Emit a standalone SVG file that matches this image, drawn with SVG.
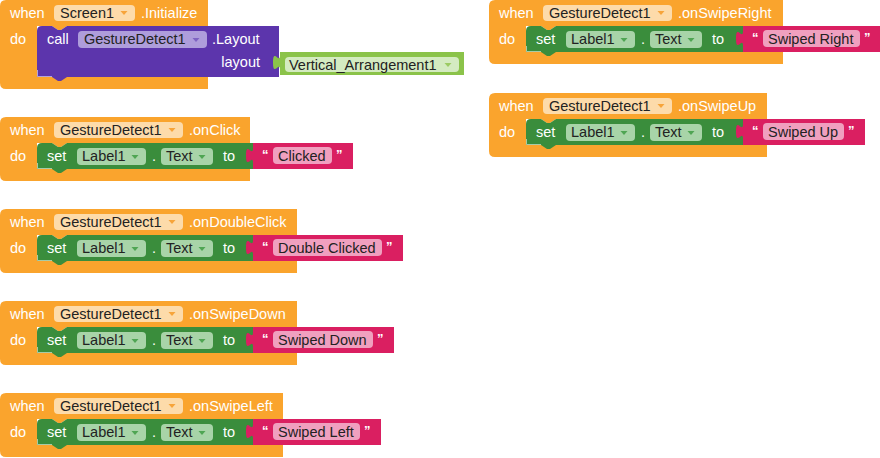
<svg xmlns="http://www.w3.org/2000/svg" width="880" height="458" viewBox="0 0 880 458">
<style>
text{font-family:"Liberation Sans",Arial,sans-serif;font-size:14.5px;fill:#fff}
.dt{fill:#222}
.q{font-size:13px;font-weight:bold}
.ev{fill:#FAA42D}
.evd{fill:#FDDBAA}
.eva{fill:#F7A43A}
.mt{fill:#5C35AC}
.mtd{fill:#AE9DDB}
.mta{fill:#7E63C2}
.st{fill:#3A8D3C}
.std{fill:#A8D4A8}
.sta{fill:#4FA553}
.tx{fill:#DA1F61}
.txd{fill:#F0A0BF}
.cp{fill:#8BC34A}
.cpd{fill:#D4EBC1}
.hl{fill:none;stroke:#fff;stroke-opacity:0.55;stroke-width:1}
</style>
<defs>
<path id="arr" d="M-3.5,-2 H3.5 L0,2 Z"/>
</defs>

<g id="initialize">
<path class="ev" d="M0,6 Q0,0 6,0 H208 V26 H67 l-6,4 h-3 l-6,-4 H37 V77 H208 V89 H6 Q0,89 0,83 Z"/>
<path class="mt" d="M37,31 Q37,26 42,26 H52 l6,4 h3 l6,-4 H279 V77 H67 l-6,4 h-3 l-6,-4 H37 Z"/>
<path class="hl" d="M37.5,70 V76.5 H52"/>
<text x="10" y="18">when</text>
<rect class="evd" x="54" y="5" width="81" height="16" rx="4"/>
<text class="dt" x="60" y="18">Screen1</text>
<use href="#arr" class="eva" x="124" y="13"/>
<text x="141" y="18">.Initialize</text>
<text x="10" y="43.5">do</text>
<text x="47" y="44">call</text>
<rect class="mtd" x="78" y="31" width="129" height="17" rx="4"/>
<text class="dt" x="84" y="44">GestureDetect1</text>
<use href="#arr" class="mta" x="196" y="40"/>
<text x="212" y="44">.Layout</text>
<text x="260" y="67" text-anchor="end">layout</text>
<path class="cp" d="M280,52 H464 V75 H280 V70 C280,60 273,78 273,62.5 S280,65 280,55 Z"/>
<rect class="cpd" x="285" y="57" width="174" height="15" rx="4"/>
<text class="dt" x="289" y="69.5">Vertical_Arrangement1</text>
<use href="#arr" x="448" y="65" style="fill:#9CCB63"/>
</g>

<g id="onClick" transform="translate(0,117)">
<path class="ev" d="M0,6 Q0,0 6,0 H250 V26 H67 l-6,4 h-3 l-6,-4 H37 V52 H250 V64 H6 Q0,64 0,58 Z"/>
<path class="st" d="M37,31 Q37,26 42,26 H52 l6,4 h3 l6,-4 H253 V52 H67 l-6,4 h-3 l-6,-4 H37 Z"/>
<path class="hl" d="M37.5,46 V51.5 H52"/>
<path class="tx" d="M253,26 H353 V52 H253 V46 C253,36 246,54 246,38.5 S253,41 253,31 Z"/>
<text x="10" y="18">when</text>
<rect class="evd" x="54" y="5" width="129" height="16" rx="4"/>
<text class="dt" x="60" y="18">GestureDetect1</text>
<use href="#arr" class="eva" x="172" y="13"/>
<text x="189" y="18">.onClick</text>
<text x="10" y="43.5">do</text>
<text x="47" y="43.5">set</text>
<rect class="std" x="77" y="31" width="69" height="17" rx="4"/>
<text class="dt" x="82" y="43.5">Label1</text>
<use href="#arr" class="sta" x="135" y="40"/>
<text x="152" y="43.5">.</text>
<rect class="std" x="161" y="31" width="52" height="17" rx="4"/>
<text class="dt" x="166" y="43.5">Text</text>
<use href="#arr" class="sta" x="202" y="40"/>
<text x="223" y="43.5">to</text>
<text class="q" x="262" y="42">“</text>
<rect class="txd" x="273" y="30" width="59" height="17" rx="4"/>
<text class="dt" x="278" y="43.5">Clicked</text>
<text class="q" x="336" y="42">”</text>
</g>

<g id="onDoubleClick" transform="translate(0,209)">
<path class="ev" d="M0,6 Q0,0 6,0 H297 V26 H67 l-6,4 h-3 l-6,-4 H37 V52 H297 V64 H6 Q0,64 0,58 Z"/>
<path class="st" d="M37,31 Q37,26 42,26 H52 l6,4 h3 l6,-4 H253 V52 H67 l-6,4 h-3 l-6,-4 H37 Z"/>
<path class="hl" d="M37.5,46 V51.5 H52"/>
<path class="tx" d="M253,26 H403 V52 H253 V46 C253,36 246,54 246,38.5 S253,41 253,31 Z"/>
<text x="10" y="18">when</text>
<rect class="evd" x="54" y="5" width="129" height="16" rx="4"/>
<text class="dt" x="60" y="18">GestureDetect1</text>
<use href="#arr" class="eva" x="172" y="13"/>
<text x="189" y="18">.onDoubleClick</text>
<text x="10" y="43.5">do</text>
<text x="47" y="43.5">set</text>
<rect class="std" x="77" y="31" width="69" height="17" rx="4"/>
<text class="dt" x="82" y="43.5">Label1</text>
<use href="#arr" class="sta" x="135" y="40"/>
<text x="152" y="43.5">.</text>
<rect class="std" x="161" y="31" width="52" height="17" rx="4"/>
<text class="dt" x="166" y="43.5">Text</text>
<use href="#arr" class="sta" x="202" y="40"/>
<text x="223" y="43.5">to</text>
<text class="q" x="262" y="42">“</text>
<rect class="txd" x="273" y="30" width="109" height="17" rx="4"/>
<text class="dt" x="278" y="43.5">Double Clicked</text>
<text class="q" x="386" y="42">”</text>
</g>

<g id="onSwipeDown" transform="translate(0,301)">
<path class="ev" d="M0,6 Q0,0 6,0 H297 V26 H67 l-6,4 h-3 l-6,-4 H37 V52 H297 V64 H6 Q0,64 0,58 Z"/>
<path class="st" d="M37,31 Q37,26 42,26 H52 l6,4 h3 l6,-4 H253 V52 H67 l-6,4 h-3 l-6,-4 H37 Z"/>
<path class="hl" d="M37.5,46 V51.5 H52"/>
<path class="tx" d="M253,26 H394 V52 H253 V46 C253,36 246,54 246,38.5 S253,41 253,31 Z"/>
<text x="10" y="18">when</text>
<rect class="evd" x="54" y="5" width="129" height="16" rx="4"/>
<text class="dt" x="60" y="18">GestureDetect1</text>
<use href="#arr" class="eva" x="172" y="13"/>
<text x="189" y="18">.onSwipeDown</text>
<text x="10" y="43.5">do</text>
<text x="47" y="43.5">set</text>
<rect class="std" x="77" y="31" width="69" height="17" rx="4"/>
<text class="dt" x="82" y="43.5">Label1</text>
<use href="#arr" class="sta" x="135" y="40"/>
<text x="152" y="43.5">.</text>
<rect class="std" x="161" y="31" width="52" height="17" rx="4"/>
<text class="dt" x="166" y="43.5">Text</text>
<use href="#arr" class="sta" x="202" y="40"/>
<text x="223" y="43.5">to</text>
<text class="q" x="262" y="42">“</text>
<rect class="txd" x="273" y="30" width="100" height="17" rx="4"/>
<text class="dt" x="278" y="43.5">Swiped Down</text>
<text class="q" x="377" y="42">”</text>
</g>

<g id="onSwipeLeft" transform="translate(0,393)">
<path class="ev" d="M0,6 Q0,0 6,0 H283 V26 H67 l-6,4 h-3 l-6,-4 H37 V52 H283 V64 H6 Q0,64 0,58 Z"/>
<path class="st" d="M37,31 Q37,26 42,26 H52 l6,4 h3 l6,-4 H253 V52 H67 l-6,4 h-3 l-6,-4 H37 Z"/>
<path class="hl" d="M37.5,46 V51.5 H52"/>
<path class="tx" d="M253,26 H381 V52 H253 V46 C253,36 246,54 246,38.5 S253,41 253,31 Z"/>
<text x="10" y="18">when</text>
<rect class="evd" x="54" y="5" width="129" height="16" rx="4"/>
<text class="dt" x="60" y="18">GestureDetect1</text>
<use href="#arr" class="eva" x="172" y="13"/>
<text x="189" y="18">.onSwipeLeft</text>
<text x="10" y="43.5">do</text>
<text x="47" y="43.5">set</text>
<rect class="std" x="77" y="31" width="69" height="17" rx="4"/>
<text class="dt" x="82" y="43.5">Label1</text>
<use href="#arr" class="sta" x="135" y="40"/>
<text x="152" y="43.5">.</text>
<rect class="std" x="161" y="31" width="52" height="17" rx="4"/>
<text class="dt" x="166" y="43.5">Text</text>
<use href="#arr" class="sta" x="202" y="40"/>
<text x="223" y="43.5">to</text>
<text class="q" x="262" y="42">“</text>
<rect class="txd" x="273" y="30" width="87" height="17" rx="4"/>
<text class="dt" x="278" y="43.5">Swiped Left</text>
<text class="q" x="364" y="42">”</text>
</g>

<g id="onSwipeRight" transform="translate(489,0)">
<path class="ev" d="M0,6 Q0,0 6,0 H294 V26 H67 l-6,4 h-3 l-6,-4 H37 V52 H294 V64 H6 Q0,64 0,58 Z"/>
<path class="st" d="M37,31 Q37,26 42,26 H52 l6,4 h3 l6,-4 H254 V52 H67 l-6,4 h-3 l-6,-4 H37 Z"/>
<path class="hl" d="M37.5,46 V51.5 H52"/>
<path class="tx" d="M254,26 H391 V52 H254 V46 C254,36 247,54 247,38.5 S254,41 254,31 Z"/>
<text x="10" y="18">when</text>
<rect class="evd" x="54" y="5" width="129" height="16" rx="4"/>
<text class="dt" x="60" y="18">GestureDetect1</text>
<use href="#arr" class="eva" x="172" y="13"/>
<text x="189" y="18">.onSwipeRight</text>
<text x="10" y="43.5">do</text>
<text x="47" y="43.5">set</text>
<rect class="std" x="77" y="31" width="69" height="17" rx="4"/>
<text class="dt" x="82" y="43.5">Label1</text>
<use href="#arr" class="sta" x="135" y="40"/>
<text x="152" y="43.5">.</text>
<rect class="std" x="161" y="31" width="52" height="17" rx="4"/>
<text class="dt" x="166" y="43.5">Text</text>
<use href="#arr" class="sta" x="202" y="40"/>
<text x="223" y="43.5">to</text>
<text class="q" x="263" y="42">“</text>
<rect class="txd" x="274" y="30" width="97" height="17" rx="4"/>
<text class="dt" x="279" y="43.5">Swiped Right</text>
<text class="q" x="375" y="42">”</text>
</g>

<g id="onSwipeUp" transform="translate(489,93)">
<path class="ev" d="M0,6 Q0,0 6,0 H278 V26 H67 l-6,4 h-3 l-6,-4 H37 V52 H278 V64 H6 Q0,64 0,58 Z"/>
<path class="st" d="M37,31 Q37,26 42,26 H52 l6,4 h3 l6,-4 H254 V52 H67 l-6,4 h-3 l-6,-4 H37 Z"/>
<path class="hl" d="M37.5,46 V51.5 H52"/>
<path class="tx" d="M254,26 H376 V52 H254 V46 C254,36 247,54 247,38.5 S254,41 254,31 Z"/>
<text x="10" y="18">when</text>
<rect class="evd" x="54" y="5" width="129" height="16" rx="4"/>
<text class="dt" x="60" y="18">GestureDetect1</text>
<use href="#arr" class="eva" x="172" y="13"/>
<text x="189" y="18">.onSwipeUp</text>
<text x="10" y="43.5">do</text>
<text x="47" y="43.5">set</text>
<rect class="std" x="77" y="31" width="69" height="17" rx="4"/>
<text class="dt" x="82" y="43.5">Label1</text>
<use href="#arr" class="sta" x="135" y="40"/>
<text x="152" y="43.5">.</text>
<rect class="std" x="161" y="31" width="52" height="17" rx="4"/>
<text class="dt" x="166" y="43.5">Text</text>
<use href="#arr" class="sta" x="202" y="40"/>
<text x="223" y="43.5">to</text>
<text class="q" x="263" y="42">“</text>
<rect class="txd" x="274" y="30" width="81" height="17" rx="4"/>
<text class="dt" x="279" y="43.5">Swiped Up</text>
<text class="q" x="359" y="42">”</text>
</g>

<g id="connectors"/>
</svg>
